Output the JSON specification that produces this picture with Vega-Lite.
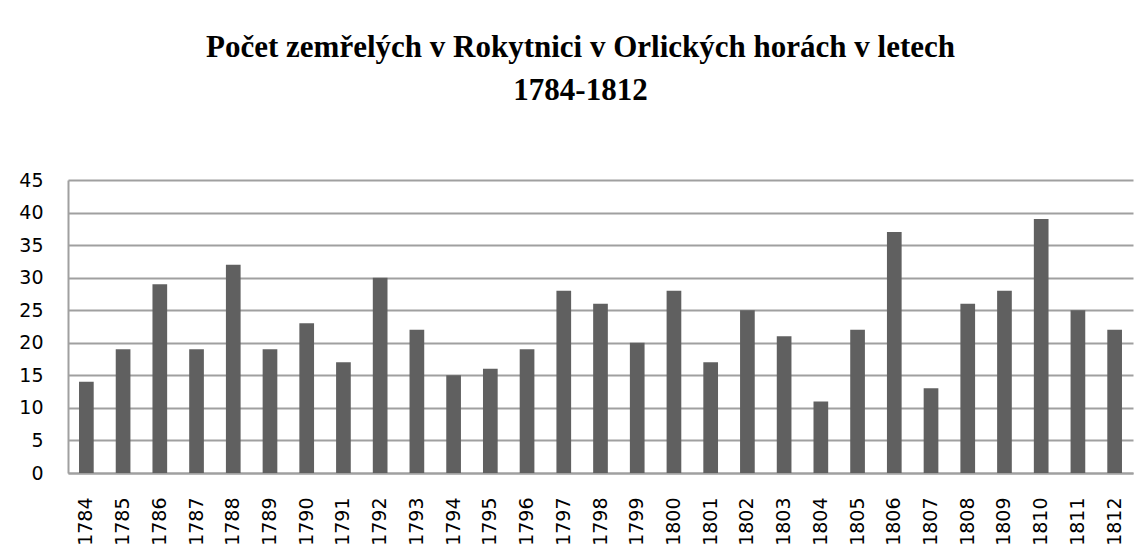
{
  "$schema": "https://vega.github.io/schema/vega-lite/v6.json",
  "autosize": {"type": "none"},
  "width": 1065,
  "height": 293,
  "padding": {"left": 68, "top": 180, "right": 12, "bottom": 77},
  "background": "white",
  "title": {
    "text": ["Počet zemřelých v Rokytnici v Orlických horách v letech", "1784-1812"],
    "font": "Liberation Serif",
    "fontSize": 31,
    "fontWeight": "bold",
    "color": "black",
    "lineHeight": 43,
    "anchor": "middle",
    "dx": -20,
    "offset": 64
  },
  "data": {
    "values": [
      {"rok": "1784", "zemreli": 14},
      {"rok": "1785", "zemreli": 19},
      {"rok": "1786", "zemreli": 29},
      {"rok": "1787", "zemreli": 19},
      {"rok": "1788", "zemreli": 32},
      {"rok": "1789", "zemreli": 19},
      {"rok": "1790", "zemreli": 23},
      {"rok": "1791", "zemreli": 17},
      {"rok": "1792", "zemreli": 30},
      {"rok": "1793", "zemreli": 22},
      {"rok": "1794", "zemreli": 15},
      {"rok": "1795", "zemreli": 16},
      {"rok": "1796", "zemreli": 19},
      {"rok": "1797", "zemreli": 28},
      {"rok": "1798", "zemreli": 26},
      {"rok": "1799", "zemreli": 20},
      {"rok": "1800", "zemreli": 28},
      {"rok": "1801", "zemreli": 17},
      {"rok": "1802", "zemreli": 25},
      {"rok": "1803", "zemreli": 21},
      {"rok": "1804", "zemreli": 11},
      {"rok": "1805", "zemreli": 22},
      {"rok": "1806", "zemreli": 37},
      {"rok": "1807", "zemreli": 13},
      {"rok": "1808", "zemreli": 26},
      {"rok": "1809", "zemreli": 28},
      {"rok": "1810", "zemreli": 39},
      {"rok": "1811", "zemreli": 25},
      {"rok": "1812", "zemreli": 22}
    ]
  },
  "mark": {"type": "bar", "color": "#606060"},
  "encoding": {
    "x": {
      "field": "rok",
      "type": "nominal",
      "sort": "ascending",
      "scale": {"paddingInner": 0.6, "paddingOuter": 0.3},
      "axis": {
        "title": null,
        "labelAngle": -90,
        "labelAlign": "right",
        "labelBaseline": "middle",
        "labelFont": "DejaVu Sans",
        "labelFontSize": 19,
        "labelColor": "black",
        "labelPadding": 24,
        "ticks": false,
        "tickSize": 0,
        "domainColor": "#a0a0a0",
        "domainWidth": 2,
        "grid": false
      }
    },
    "y": {
      "field": "zemreli",
      "type": "quantitative",
      "scale": {"domain": [0, 45], "nice": false},
      "axis": {
        "title": null,
        "values": [0, 5, 10, 15, 20, 25, 30, 35, 40, 45],
        "labelFont": "DejaVu Sans",
        "labelFontSize": 19,
        "labelColor": "black",
        "labelPadding": 25,
        "ticks": false,
        "tickSize": 0,
        "domainColor": "#a0a0a0",
        "domainWidth": 2,
        "grid": true,
        "gridColor": "#a0a0a0",
        "gridWidth": 2
      }
    }
  },
  "config": {
    "view": {"stroke": null}
  }
}
